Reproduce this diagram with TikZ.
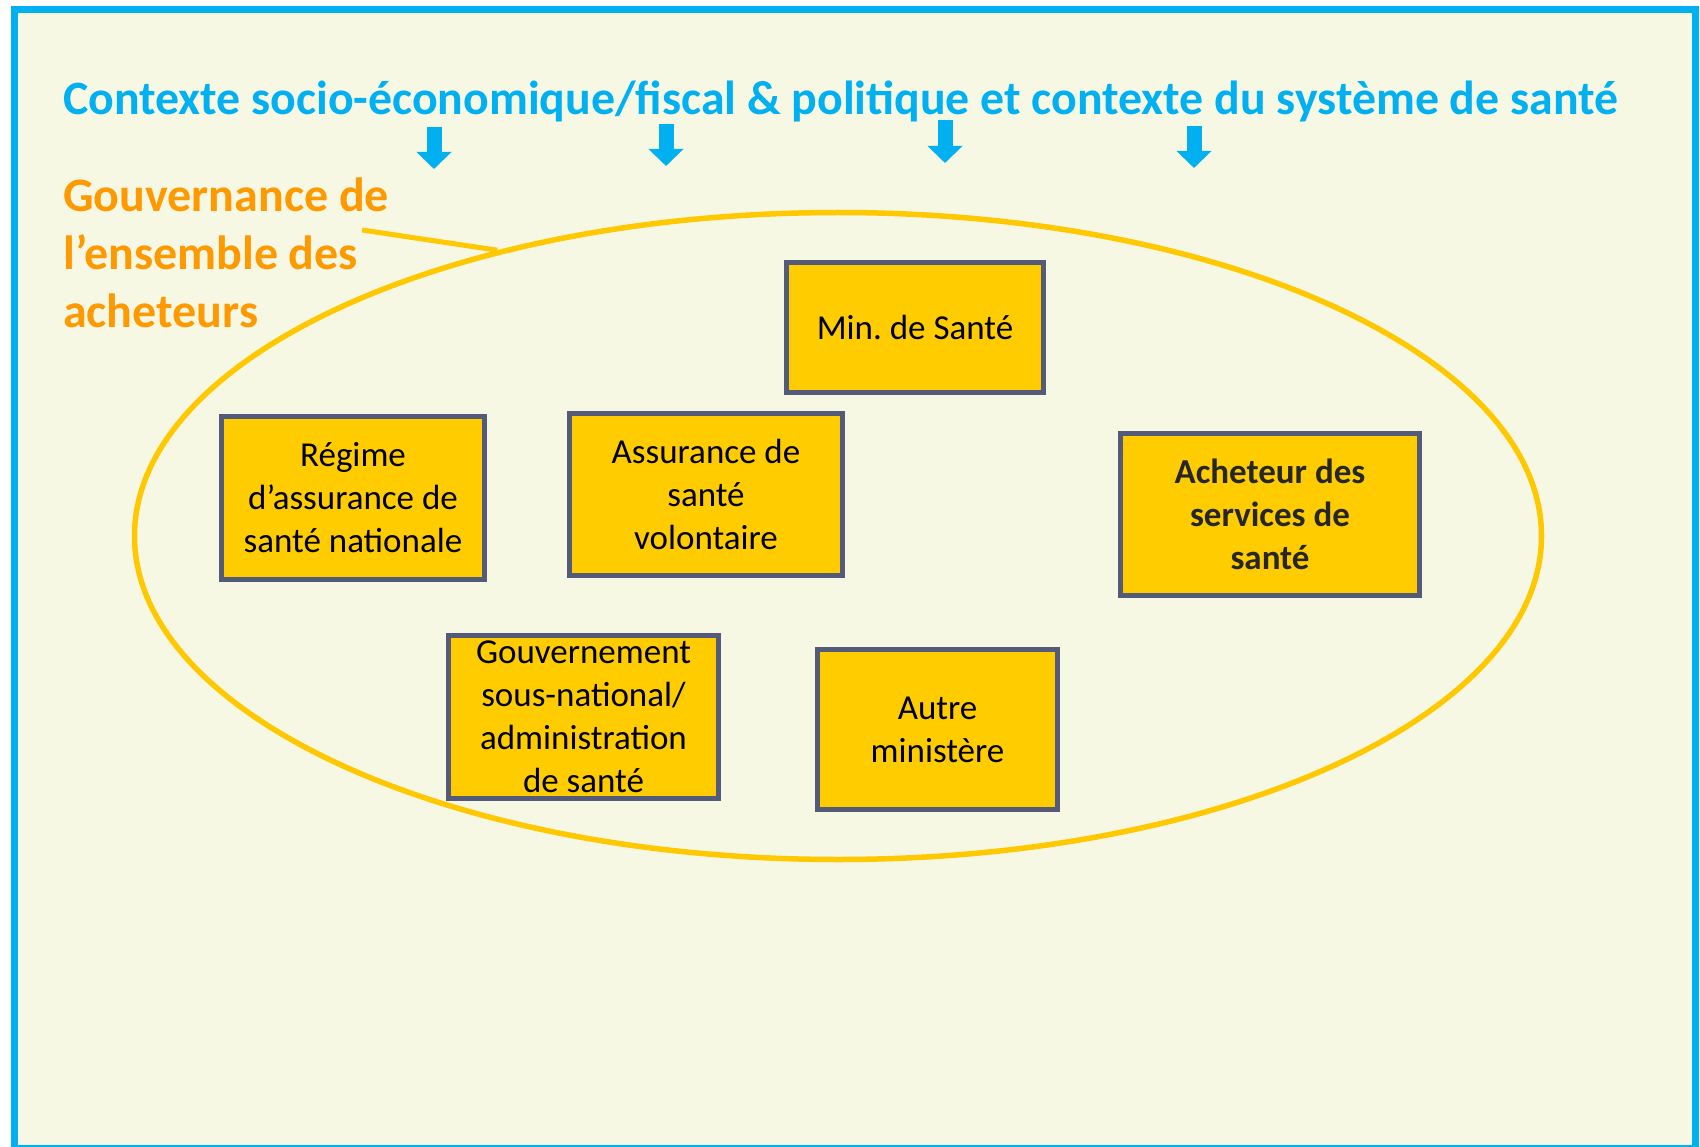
\documentclass[tikz,border=0pt]{standalone}
\usepackage{fontspec}
\setmainfont{Carlito}
\usetikzlibrary{shapes.geometric,arrows.meta}
\definecolor{frameblue}{HTML}{00B0F0}
\definecolor{cream}{HTML}{F6F8E4}
\definecolor{govorange}{HTML}{FF9900}
\definecolor{ringgold}{HTML}{FFC800}
\definecolor{boxfill}{HTML}{FFCC00}
\definecolor{boxline}{HTML}{545B78}
\definecolor{boldtext}{HTML}{262626}
\frenchspacing
\begin{document}
\begin{tikzpicture}[x=1pt,y=-1pt,
  actor/.style={draw=boxline, line width=5pt, fill=boxfill, align=center,
    inner xsep=0pt, inner ysep=-12pt, text=black,
    font=\fontsize{35}{43}\selectfont},
  ctxarrow/.style={draw=frameblue, line width=15pt,
    -{Triangle[width=34pt,length=17pt]}},
  bigtext/.style={inner sep=0pt, font=\bfseries\fontsize{48}{58}\selectfont},
  leader/.style={draw=ringgold, line width=5pt}
]
\useasboundingbox (0,0) rectangle (1700,1147);
\fill[white] (0,0) rectangle (1700,1147);
\draw[frameblue, line width=7pt, fill=cream] (14.5,9.5) rectangle (1695,1148);

% title
\node[bigtext, anchor=base west, text=frameblue, font=\bfseries\fontsize{47.8}{58}\selectfont] (ctx) at (63,115)
  {Contexte socio-économique/fiscal \& politique et contexte du système de santé};

% arrows
\foreach \i/\x/\t/\b in {1/434/127/169, 2/666/124/166, 3/945/120/163, 4/1194/126/168}{
  \coordinate (arrtop\i) at (\x,\t);
  \coordinate (arrtip\i) at (\x,\b);
  \draw[ctxarrow] (arrtop\i) -- (arrtip\i);
}

% ellipse
\node[ellipse, draw=ringgold, line width=5.5pt, minimum width=1407pt,
  minimum height=647pt, inner sep=0pt] (ell) at (838,536) {};

% governance label (base anchor = last line's baseline)
\node[bigtext, anchor=base west, align=left, text=govorange] (gov) at (63,328)
  {Gouvernance de\\l’ensemble des\\acheteurs};
\coordinate (lead) at (362,230);
\draw[leader] (lead) -- (ell.140.8);

% boxes
\node[actor, minimum width=257pt, minimum height=130pt] (moh) at (915,327.5) {Min. de Santé};
\node[actor, minimum width=263pt, minimum height=163pt] (nhi) at (353,498) {Régime\\d’assurance de\\santé nationale};
\node[actor, minimum width=273pt, minimum height=162pt] (vhi) at (706,494.5) {Assurance de\\santé\\volontaire};
\node[actor, minimum width=299pt, minimum height=162pt, text=boldtext,
  font=\bfseries\fontsize{35}{43}\selectfont] (buyer) at (1270,514.5) {Acheteur des\\services de\\santé};
\node[actor, minimum width=270pt, minimum height=163pt] (subnat) at (583.5,717) {Gouvernement\\sous-national/\\administration\\de santé};
\node[actor, minimum width=240pt, minimum height=160pt] (other) at (937.5,729.5) {Autre\\ministère};
\end{tikzpicture}
\end{document}
